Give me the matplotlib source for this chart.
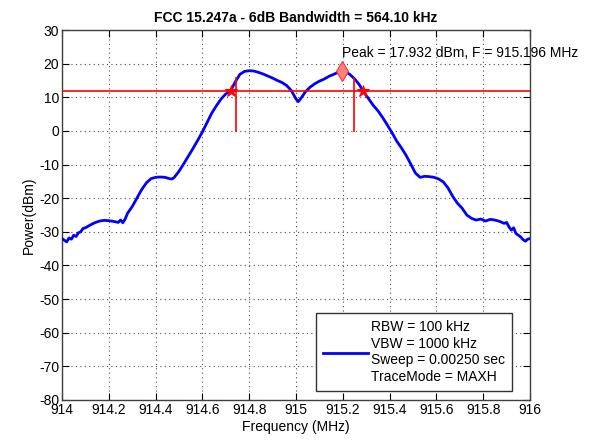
import matplotlib
matplotlib.use("Agg")
import matplotlib.pyplot as plt
import numpy as np

plt.rcParams['font.family'] = ['Liberation Sans', 'DejaVu Sans']
plt.rcParams['axes.unicode_minus'] = False

# Spectrum trace (MAX HOLD), frequency in MHz, power in dBm
freq_mhz = [
    914.00, 914.01, 914.02, 914.03, 914.04, 914.05, 914.06, 914.07, 914.08, 914.09,
    914.10, 914.12, 914.14, 914.16, 914.18, 914.20, 914.22, 914.24, 914.25, 914.26,
    914.27, 914.28, 914.30, 914.32, 914.34, 914.36, 914.38, 914.40, 914.42, 914.44,
    914.46, 914.47, 914.48, 914.50, 914.52, 914.54, 914.56, 914.58, 914.60, 914.62,
    914.64, 914.66, 914.68, 914.70, 914.72, 914.74, 914.76, 914.78, 914.80, 914.82,
    914.84, 914.86, 914.88, 914.90, 914.92, 914.94, 914.96, 914.98, 915.00, 915.01,
    915.02, 915.04, 915.06, 915.08, 915.10, 915.12, 915.14, 915.16, 915.18, 915.196,
    915.21, 915.23, 915.25, 915.27, 915.29, 915.31, 915.33, 915.35, 915.37, 915.39,
    915.41, 915.43, 915.45, 915.47, 915.49, 915.51, 915.53, 915.55, 915.57, 915.59,
    915.61, 915.63, 915.65, 915.67, 915.69, 915.71, 915.73, 915.75, 915.77, 915.79,
    915.81, 915.83, 915.85, 915.87, 915.89, 915.90, 915.91, 915.92, 915.93, 915.94,
    915.95, 915.96, 915.97, 915.98, 915.99, 916.00,
]
power_dbm = [
    -32.0, -32.5, -33.0, -31.8, -32.2, -31.0, -31.4, -30.3, -30.0, -29.0,
    -28.8, -28.0, -27.3, -26.8, -26.6, -26.7, -26.9, -27.2, -26.5, -27.3,
    -26.2, -24.5, -22.5, -20.0, -17.5, -15.5, -14.2, -13.8, -13.7, -13.8,
    -14.2, -14.3, -13.8, -12.0, -9.8, -7.5, -5.2, -2.8, -0.3, 2.5,
    5.3, 7.5, 9.5, 11.0, 11.85, 14.5, 16.8, 17.7, 17.9, 17.8,
    17.4, 16.9, 16.3, 15.7, 15.0, 14.4, 13.5, 12.0, 9.5, 8.7,
    9.6, 11.6, 13.0, 14.0, 14.8, 15.4, 16.2, 16.8, 17.4, 17.932,
    17.6, 16.8, 15.5, 13.8, 11.5, 9.6, 7.6, 6.0, 4.0, 1.8,
    -0.5, -3.0, -5.0, -7.2, -9.8, -12.5, -13.8, -13.5, -13.6, -13.8,
    -14.3, -15.2, -17.0, -19.5, -21.5, -23.0, -25.0, -26.0, -26.5, -26.2,
    -26.8, -26.3, -26.5, -26.9, -27.5, -27.2, -28.5, -29.5, -28.8, -30.5,
    -31.0, -31.5, -32.3, -32.8, -32.2, -32.0,
]

peak_freq = 915.196
peak_power = 17.932
threshold = peak_power - 6.0
edge_freqs = [914.722, 915.286]
cursor_freqs = [914.745, 915.248]
cursor_span = [0.0, 15.8]

x_ticks = [914, 914.2, 914.4, 914.6, 914.8, 915, 915.2, 915.4, 915.6, 915.8, 916]
x_tick_labels = ['914', '914.2', '914.4', '914.6', '914.8', '915',
                 '915.2', '915.4', '915.6', '915.8', '916']
y_ticks = list(range(-80, 31, 10))

legend_label = ("RBW = 100 kHz\nVBW = 1000 kHz\n"
                "Sweep = 0.00250 sec\nTraceMode = MAXH")

fig = plt.figure(figsize=(5.94, 4.42), dpi=100)
ax = fig.add_axes([62 / 594, 1 - 400 / 442, 468 / 594, 370 / 442])

ax.plot(freq_mhz, power_dbm, color='#0000FF', lw=2.0, label=legend_label, zorder=3)

# -6 dB threshold line and band-edge cursors
ax.axhline(threshold, color='#FF0000', lw=1.2, zorder=4)
for cf in cursor_freqs:
    ax.plot([cf, cf], cursor_span, color='#FF0000', lw=1.2, zorder=4)
ax.plot(edge_freqs, [threshold, threshold], linestyle='none', marker='*',
        markersize=9, color='#FF0000', markeredgewidth=0.8, zorder=5)
ax.plot([peak_freq], [peak_power], linestyle='none', marker='d',
        markersize=10, markerfacecolor='#FF8080', markeredgecolor='#FF3030',
        markeredgewidth=0.8, zorder=5)
ax.text(peak_freq, peak_power + 5.2,
        'Peak = %.3f dBm, F = %.3f MHz' % (peak_power, peak_freq),
        ha='left', va='center', fontsize=10, clip_on=False, zorder=6)

ax.set_xlim(914, 916)
ax.set_ylim(-80, 30)
ax.set_xticks(x_ticks)
ax.set_xticklabels(x_tick_labels)
ax.set_yticks(y_ticks)
ax.tick_params(direction='in', length=5, width=0.8, top=True, right=True,
               labelsize=10, pad=2, colors='black')
ax.grid(True, color='0.3', linestyle=(0, (1, 3)), lw=0.8)
for sp in ax.spines.values():
    sp.set_linewidth(1.0)
    sp.set_color('0.25')

ax.set_title('FCC 15.247a - 6dB Bandwidth = 564.10 kHz', fontsize=10,
             fontweight='bold', pad=6)
ax.set_xlabel('Frequency (MHz)', fontsize=10, labelpad=2)
ax.set_ylabel('Power(dBm)', fontsize=10, labelpad=2)

leg = ax.legend(loc='lower right', bbox_to_anchor=(0.9615, 0.024),
                borderaxespad=0, fancybox=False, framealpha=1,
                edgecolor='0.2', fontsize=10, handlelength=3.2,
                handletextpad=0.25, borderpad=0.5)
leg.get_frame().set_linewidth(1.0)
for t in leg.get_texts():
    t.set_linespacing(1.25)

fig.savefig('out.png', dpi=100)
